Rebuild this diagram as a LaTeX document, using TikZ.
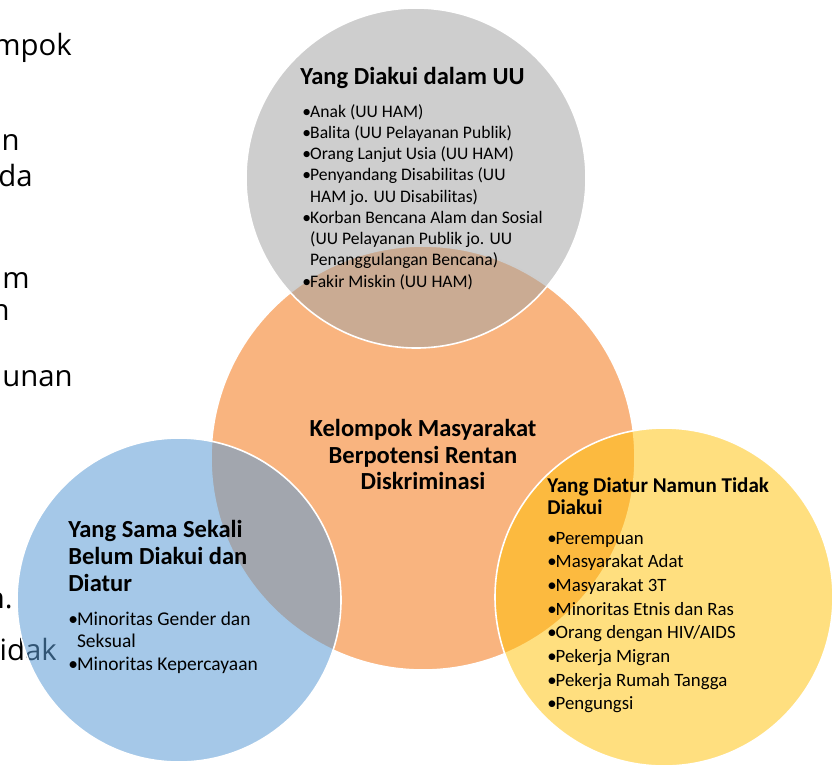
\documentclass[tikz,border=0pt]{standalone}
\usepackage{fontspec}
\setmainfont{Carlito}
\newfontfamily\pagefont{Open Sans}
\definecolor{ringorange}{HTML}{F9B47F}
\definecolor{ringgrey}{HTML}{A5A5A5}
\definecolor{ringblue}{HTML}{5B9BD5}
\definecolor{ringyellow}{HTML}{FFC000}
\newcommand{\bul}{\makebox[0.45em][l]{•}}
\newcommand{\bulgap}{\hspace*{0.45em}}
\begin{document}
\begin{tikzpicture}[x=0.75pt, y=0.75pt,
  ring/.style={draw=white, line width=1.2},
  pagetext/.style={anchor=base east, font=\pagefont\fontsize{22}{26}\selectfont},
  bighead/.style={anchor=base west, font=\bfseries\fontsize{18.4}{22}\selectfont},
  smallhead/.style={anchor=base west, font=\bfseries\fontsize{15.8}{19}\selectfont},
  greyitem/.style={anchor=base west, font=\fontsize{13.2}{16}\selectfont},
  blueitem/.style={anchor=base west, font=\fontsize{14.6}{17}\selectfont},
  yellowitem/.style={anchor=base west, font=\fontsize{14.1}{17}\selectfont}]
\tikzstyle{every node}+=[inner sep=0pt]
\useasboundingbox (0,0) rectangle (834,-768);
% text of the page behind the picture
\node [pagetext] (p1) at (72,-55) {mpok};
\node [pagetext] (p2) at (20,-150) {n};
\node [pagetext] (p3) at (33,-186) {da};
\node [pagetext] (p4) at (30,-288) {m};
\node [pagetext] (p5) at (10,-320) {n};
\node [pagetext] (p6) at (73,-386) {unan};
\node [pagetext] (p7) at (13,-608) {n.};
\node [pagetext] (p8) at (57,-660) {idak};
% circles
\coordinate (mid) at (423,-458);
\coordinate (top) at (416,-178);
\coordinate (left) at (179,-600);
\coordinate (right) at (664,-597);
\draw [ring, fill=ringorange] (mid) circle [radius=212];
\draw [ring, fill=ringgrey, fill opacity=0.55] (top) circle [radius=170];
\draw [ring, fill=ringblue, fill opacity=0.55] (left) circle [radius=162];
\draw [ring, fill=ringyellow, fill opacity=0.5] (right) circle [radius=169];
% centre
\node [bighead, anchor=base] (c1) at (423,-436) {Kelompok Masyarakat};
\node [bighead, anchor=base] (c2) at (423,-463) {Berpotensi Rentan};
\node [bighead, anchor=base] (c3) at (423,-489) {Diskriminasi};
% top circle
\node [bighead] (t0) at (300,-84) {Yang Diakui dalam UU};
\node [greyitem] (t1) at (302,-117) {\bul Anak (UU HAM)};
\node [greyitem] (t2) at (302,-138.25) {\bul Balita (UU Pelayanan Publik)};
\node [greyitem] (t3) at (302,-159.5) {\bul Orang Lanjut Usia (UU HAM)};
\node [greyitem] (t4) at (302,-180.75) {\bul Penyandang Disabilitas (UU};
\node [greyitem] (t5) at (302,-202) {\bulgap HAM jo. UU Disabilitas)};
\node [greyitem] (t6) at (302,-223.25) {\bul Korban Bencana Alam dan Sosial};
\node [greyitem] (t7) at (302,-244.5) {\bulgap (UU Pelayanan Publik jo. UU};
\node [greyitem] (t8) at (302,-265.75) {\bulgap Penanggulangan Bencana)};
\node [greyitem] (t9) at (302,-287) {\bul Fakir Miskin (UU HAM)};
% left circle
\node [bighead] (l1) at (68,-537) {Yang Sama Sekali};
\node [bighead] (l2) at (68,-564) {Belum Diakui dan};
\node [bighead] (l3) at (68,-591) {Diatur};
\node [blueitem] (l4) at (68,-625) {\bul Minoritas Gender dan};
\node [blueitem] (l5) at (68,-647) {\bulgap Seksual};
\node [blueitem] (l6) at (68,-670) {\bul Minoritas Kepercayaan};
% right circle
\node [smallhead] (r1) at (547,-492) {Yang Diatur Namun Tidak};
\node [smallhead] (r2) at (547,-514) {Diakui};
\node [yellowitem] (r3) at (547,-544) {\bul Perempuan};
\node [yellowitem] (r4) at (547,-567.7) {\bul Masyarakat Adat};
\node [yellowitem] (r5) at (547,-591.4) {\bul Masyarakat 3T};
\node [yellowitem] (r6) at (547,-615.1) {\bul Minoritas Etnis dan Ras};
\node [yellowitem] (r7) at (547,-638.8) {\bul Orang dengan HIV/AIDS};
\node [yellowitem] (r8) at (547,-662.5) {\bul Pekerja Migran};
\node [yellowitem] (r9) at (547,-686.2) {\bul Pekerja Rumah Tangga};
\node [yellowitem] (r10) at (547,-709.9) {\bul Pengungsi};
\end{tikzpicture}
\end{document}
